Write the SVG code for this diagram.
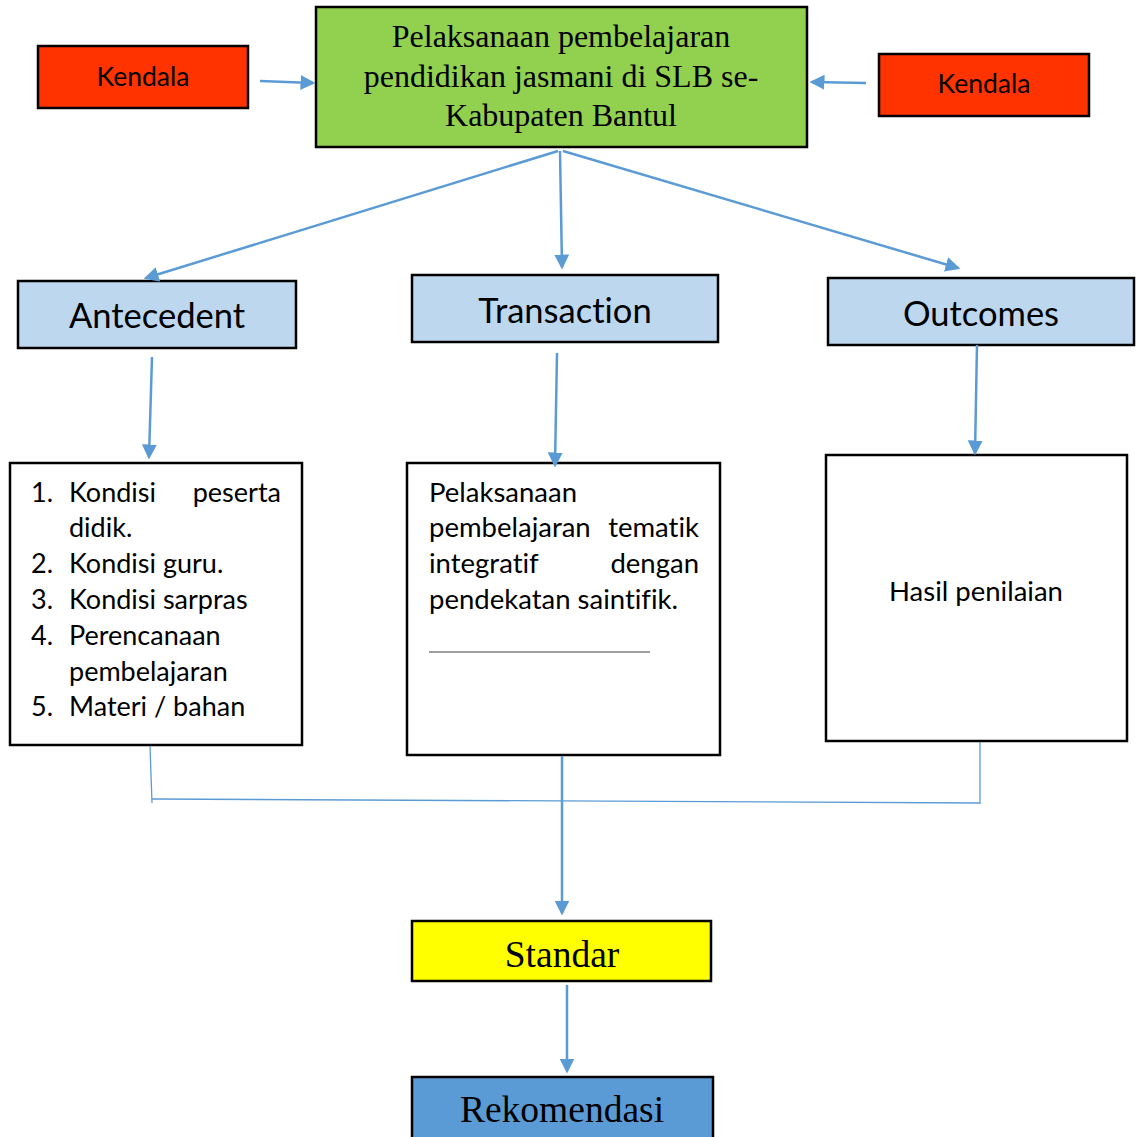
<svg xmlns="http://www.w3.org/2000/svg" width="1136" height="1137" viewBox="0 0 1136 1137">
<style>
.box{stroke:#000;stroke-width:2.5}
.serif{font-family:"Liberation Serif","Times New Roman",serif;fill:#000}
.sans{font-family:"Lato","Liberation Sans",Arial,sans-serif;fill:#000;font-variant-ligatures:none}
.conn{stroke:#5B9BD5;stroke-width:2.5;fill:none}
.thin{stroke:#5B9BD5;stroke-width:1.3;fill:none}
</style>
<defs>
<marker id="ah" markerWidth="6" markerHeight="6" refX="5" refY="3" orient="auto" markerUnits="strokeWidth">
<path d="M0,0 L6,3 L0,6 z" fill="#5B9BD5"/>
</marker>
</defs>
<rect width="1136" height="1137" fill="#fff"/>

<g id="main">
<rect class="box" x="316" y="7" width="491" height="140" fill="#92D050"/>
<text class="serif" font-size="32" text-anchor="middle" x="561" y="47">Pelaksanaan pembelajaran</text>
<text class="serif" font-size="32" text-anchor="middle" x="561" y="87">pendidikan jasmani di SLB se-</text>
<text class="serif" font-size="32" text-anchor="middle" x="561" y="126">Kabupaten Bantul</text>
</g>

<g id="kendala-left">
<rect class="box" x="38" y="46" width="210" height="62" fill="#FF3300"/>
<text class="sans" font-size="26.5" text-anchor="middle" x="143" y="86">Kendala</text>
</g>
<g id="kendala-right">
<rect class="box" x="879" y="54" width="210" height="62" fill="#FF3300"/>
<text class="sans" font-size="26.5" text-anchor="middle" x="984" y="93">Kendala</text>
</g>

<g id="antecedent">
<rect class="box" x="18" y="281" width="278" height="67" fill="#BDD7EE"/>
<text class="sans" font-size="34.5" text-anchor="middle" x="157" y="328">Antecedent</text>
</g>
<g id="transaction">
<rect class="box" x="412" y="275" width="306" height="67" fill="#BDD7EE"/>
<text class="sans" font-size="34.5" text-anchor="middle" x="565" y="323">Transaction</text>
</g>
<g id="outcomes">
<rect class="box" x="828" y="278" width="306" height="67" fill="#BDD7EE"/>
<text class="sans" font-size="34.5" text-anchor="middle" x="981" y="326">Outcomes</text>
</g>

<g id="antecedent-list">
<rect class="box" x="10" y="463" width="292" height="282" fill="#fff"/>
<g class="sans" font-size="27">
<text x="31" y="502">1.</text><text x="69" y="502">Kondisi</text><text x="281" y="502" text-anchor="end">peserta</text>
<text x="69" y="537">didik.</text>
<text x="31" y="573">2.</text><text x="69" y="573">Kondisi guru.</text>
<text x="31" y="609">3.</text><text x="69" y="609">Kondisi sarpras</text>
<text x="31" y="645">4.</text><text x="69" y="645">Perencanaan</text>
<text x="69" y="681">pembelajaran</text>
<text x="31" y="716">5.</text><text x="69" y="716">Materi / bahan</text>
</g>
</g>

<g id="transaction-detail">
<rect class="box" x="407" y="463" width="313" height="292" fill="#fff"/>
<g class="sans" font-size="27.5">
<text x="429" y="502">Pelaksanaan</text>
<text x="429" y="537">pembelajaran</text><text x="699" y="537" text-anchor="end">tematik</text>
<text x="429" y="573">integratif</text><text x="699" y="573" text-anchor="end">dengan</text>
<text x="429" y="609">pendekatan saintifik.</text>
</g>
<line x1="429" y1="652" x2="650" y2="652" stroke="#7f7f7f" stroke-width="1.3"/>
</g>

<g id="outcomes-detail">
<rect class="box" x="826" y="455" width="301" height="286" fill="#fff"/>
<text class="sans" font-size="27.5" text-anchor="middle" x="976" y="601">Hasil penilaian</text>
</g>

<g id="standar">
<rect class="box" x="412" y="921" width="299" height="60" fill="#FFFF00"/>
<text class="serif" font-size="37.5" text-anchor="middle" x="562" y="967">Standar</text>
</g>
<g id="rekomendasi">
<rect class="box" x="412" y="1077" width="301" height="62" fill="#5B9BD5"/>
<text class="serif" font-size="37.5" text-anchor="middle" x="562" y="1122">Rekomendasi</text>
</g>

<g id="connectors">
<line class="conn" x1="260" y1="81" x2="313" y2="83" marker-end="url(#ah)"/>
<line class="conn" x1="866" y1="83" x2="812" y2="82" marker-end="url(#ah)"/>
<line class="conn" x1="558" y1="151" x2="146" y2="278" marker-end="url(#ah)"/>
<line class="conn" x1="560" y1="151" x2="562" y2="267" marker-end="url(#ah)"/>
<line class="conn" x1="563" y1="151" x2="958" y2="268" marker-end="url(#ah)"/>
<line class="conn" x1="152" y1="357" x2="149" y2="457" marker-end="url(#ah)"/>
<line class="conn" x1="557" y1="353" x2="555" y2="465" marker-end="url(#ah)"/>
<line class="conn" x1="977" y1="345" x2="975" y2="453" marker-end="url(#ah)"/>
<polyline class="thin" points="150,746 152,803"/>
<polyline class="thin" points="152,799 980,803"/>
<polyline class="thin" points="980,742 980,804"/>
<line class="conn" x1="562" y1="756" x2="562" y2="913" marker-end="url(#ah)"/>
<line class="conn" x1="567" y1="985" x2="567" y2="1071" marker-end="url(#ah)"/>
</g>
</svg>
